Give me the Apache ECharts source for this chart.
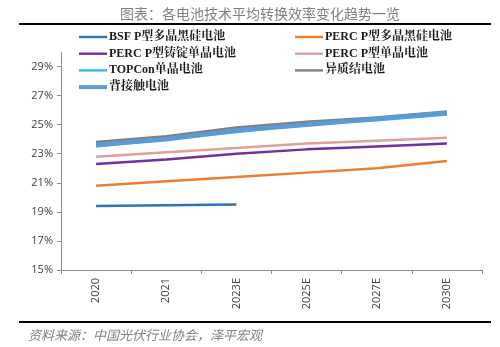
<!DOCTYPE html>
<html><head><meta charset="utf-8">
<script src="https://cdn.jsdelivr.net/npm/echarts@6/dist/echarts.min.js"></script>
<style>html,body{margin:0;padding:0;background:#fff}#c{width:500px;height:347px}</style>
</head><body><div id="c"></div>
<script>
const categories = ['2020','2021','2023E','2025E','2027E','2030E'];
const yTicks = [15,17,19,21,23,25,27,29];
const bsf = [19.4, 19.45, 19.5, null, null, null];
const percMultiBlack = [20.8, 21.1, 21.4, 21.7, 22.0, 22.5];
const percCastMono = [22.3, 22.6, 23.0, 23.3, 23.5, 23.7];
const percMono = [22.8, 23.1, 23.4, 23.7, 23.9, 24.1];
const topcon = [23.5, 24.0, 24.5, 25.0, 25.3, 25.7];
const hjt = [23.8, 24.2, 24.8, 25.2, 25.5, 25.9];
const bc = [23.6, 24.0, 24.6, 25.0, 25.4, 25.8];
const names = ['BSF P型多晶黑硅电池','PERC P型多晶黑硅电池','PERC P型铸锭单晶电池','PERC P型单晶电池','TOPCon单晶电池','异质结电池','背接触电池'];
const values = [bsf, percMultiBlack, percCastMono, percMono, topcon, hjt, bc];
const colors = ['#2E75B6','#ED7D31','#7030A0','#E0A09E','#33BBEE','#7F7F7F','#5B9BD5'];
const widths = [2.5,2.5,2.5,2.5,2.5,2.5,4.5];
const order = [0,1,2,3,4,6,5];
const series = order.map(i => ({
  name: names[i], type: 'line', data: values[i], showSymbol: false, symbol: 'none',
  lineStyle: {color: colors[i], width: widths[i]}, itemStyle: {color: colors[i]},
  z: i === 5 ? 2 : 3, smooth: false
}));
const legendText = {fontSize: 12, fontWeight: 'bold', color: '#1a1a1a', padding: [0,0,0,-3], fontFamily: '"Liberation Serif","Noto Serif CJK SC","Noto Sans CJK SC",serif'};
const thin = 'path://M0,3.8 L28,3.8 L28,6.2 L0,6.2 Z';
const thick = 'path://M0,3 L28,3 L28,7 L0,7 Z';
const chart = echarts.init(document.getElementById('c'));
chart.setOption({
  animation: false,
  color: colors,
  title: {text: '图表：各电池技术平均转换效率变化趋势一览', left: 255, textAlign: 'center', top: 2,
    textStyle: {fontSize: 14, fontWeight: 'normal', color: '#808080', fontFamily: '"Noto Sans CJK SC",sans-serif'}},
  legend: [
    {data: [{name: names[0], icon: thin},{name: names[2], icon: thin},{name: names[4], icon: thin},{name: names[6], icon: thick}], orient: 'vertical', left: 79, top: 31, padding: 0, itemWidth: 28, itemHeight: 10, itemGap: 4.7, textStyle: legendText},
    {data: [{name: names[1], icon: thin},{name: names[3], icon: thin},{name: names[5], icon: thin}], orient: 'vertical', left: 295, top: 31, padding: 0, itemWidth: 28, itemHeight: 10, itemGap: 4.7, textStyle: legendText}
  ],
  grid: {left: 61, right: 18, top: 52, bottom: 77, containLabel: false},
  xAxis: {type: 'category', data: categories, boundaryGap: true,
    axisLine: {lineStyle: {color: '#8c8c8c', width: 1}},
    axisTick: {show: true, lineStyle: {color: '#8c8c8c'}, length: 4},
    axisLabel: {rotate: 90, color: '#404040', fontSize: 11, margin: 8, fontFamily: '"Open Sans","DejaVu Sans",sans-serif'}},
  yAxis: {type: 'value', min: 15, max: 30, interval: 1,
    axisLine: {show: true, lineStyle: {color: '#8c8c8c', width: 1}},
    axisTick: {show: true, length: 4, inside: false, lineStyle: {color: '#8c8c8c'}, customValues: yTicks},
    splitLine: {show: false},
    axisLabel: {color: '#404040', fontSize: 11, margin: 8, formatter: v => v + '%', customValues: yTicks, fontFamily: '"Open Sans","DejaVu Sans",sans-serif'}},
  series: series,
  graphic: [
    {type: 'line', shape: {x1: 19, y1: 24, x2: 491, y2: 24}, style: {stroke: '#000', lineWidth: 2}},
    {type: 'line', shape: {x1: 19, y1: 322, x2: 491, y2: 322}, style: {stroke: '#000', lineWidth: 2}},
    {type: 'text', left: 28, top: 329, style: {text: '资料来源：中国光伏行业协会，泽平宏观', fill: '#808080', fontSize: 13, fontStyle: 'italic', fontFamily: '"Noto Sans CJK SC",sans-serif'}}
  ]
});
</script></body></html>
